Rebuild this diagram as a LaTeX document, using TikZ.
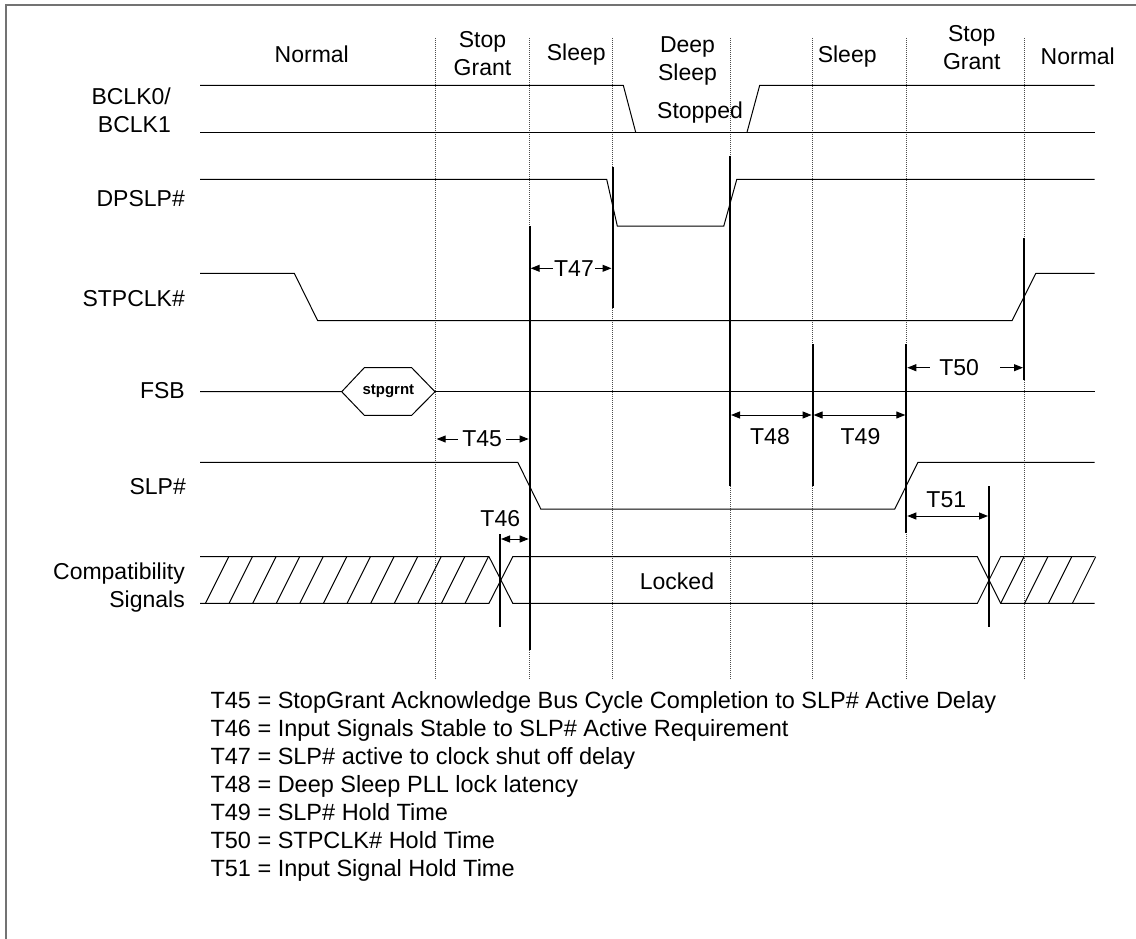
\documentclass[tikz,border=0pt]{standalone}
\usepackage{fontspec}
\setmainfont{Liberation Sans}
\usetikzlibrary{arrows.meta}
\tikzset{
  wave/.style={line width=1pt},
  markline/.style={line width=2pt},
  gridline/.style={line width=0.8pt,draw=black!70,dash pattern=on 1pt off 1pt},
  dimarrow/.style={-{Triangle[length=9pt,width=7pt]},line width=1pt},
  dimboth/.style={{Triangle[length=9pt,width=7pt]}-{Triangle[length=9pt,width=7pt]},line width=1pt},
  modelabel/.style={align=center,inner sep=0pt},
  signame/.style={anchor=east,align=right,inner sep=0pt},
  timelabel/.style={inner sep=0pt},
  keyline/.style={anchor=base west,inner sep=0pt,font=\fontsize{23.5}{28}\selectfont}
}
\begin{document}
\begin{tikzpicture}[x=1pt,y=-1pt,font=\fontsize{23}{28}\selectfont]
  \useasboundingbox (0,0) rectangle (1136,939);
  % frame
  \draw[black!55,line width=2pt] (6,939) -- (6,5) -- (1136,5);
  % state boundaries
  \foreach \xx in {435.7,529.7,612.5,730,812.6,906.3,1024}
    \draw[gridline] (\xx,38) -- (\xx,680);
  % state names
  \node[modelabel] (normone) at (311.8,54.3) {Normal};
  \node[modelabel] (grantone) at (482.5,54) {Stop\\Grant};
  \node[modelabel] (sleepone) at (576.3,54.3) {Sleep};
  \node[modelabel] (deep) at (687.5,60.8) {Deep\\Sleep};
  \node[modelabel] (sleeptwo) at (847.2,56.7) {Sleep};
  \node[modelabel] (granttwo) at (971.8,47.5) {Stop\\Grant};
  \node[modelabel] (normtwo) at (1077.8,56.7) {Normal};
  % signal names
  \node[signame] (bclk) at (171,110) {BCLK0/\\BCLK1};
  \node[signame] (dpslp) at (185,199) {DPSLP\#};
  \node[signame] (stpclk) at (185,298.3) {STPCLK\#};
  \node[signame] (fsb) at (185,391) {FSB};
  \node[signame] (slp) at (186,486.7) {SLP\#};
  \node[signame] (compat) at (185,587.5) {Compatibility\\Signals};
  % BCLK
  \draw[wave] (200,85.3) -- (623.3,85.3) -- (635.7,132.3);
  \draw[wave] (747,132.3) -- (759.7,85.3) -- (1094.7,85.3);
  \draw[wave] (200,132.3) -- (1094.7,132.3);
  \node[timelabel] (stopped) at (700,113) {Stopped};
  % DPSLP#
  \draw[wave] (200,179.3) -- (606.7,179.3) -- (617.3,226) -- (723.8,226)
    -- (736.8,179.3) -- (1094.7,179.3);
  % STPCLK#
  \draw[wave] (200,273.3) -- (294.3,273.3) -- (317.7,320.7) -- (1012,320.7)
    -- (1035.9,273.3) -- (1094.7,273.3);
  % FSB
  \draw[wave] (200,391.7) -- (341.7,391.7) -- (364.3,367.7) -- (411.7,367.7)
    -- (435,391.7) -- (411.7,415.3) -- (364.3,415.3) -- (341.7,391.7);
  \draw[wave] (435,391.7) -- (1094.7,391.7);
  \node[timelabel,font=\fontsize{15}{18}\selectfont\bfseries] (grnt) at (388.4,391.5) {stpgrnt};
  % SLP#
  \draw[wave] (200,462.3) -- (517.8,462.3) -- (540.8,509) -- (894.7,509)
    -- (918,462.3) -- (1094.7,462.3);
  % compatibility signals
  \draw[wave] (200,556.7) -- (489,556.7) -- (512.8,603.3) -- (977.4,603.3)
    -- (1000.7,556.7) -- (1094.7,556.7);
  \draw[wave] (200,603.3) -- (489,603.3) -- (512.8,556.7) -- (977.4,556.7)
    -- (1000.7,603.3) -- (1094.7,603.3);
  \foreach \k in {0,...,11}
    \draw[wave] (205.5+23.6*\k,603.3) -- ++(23.3,-46.6);
  \foreach \k in {0,...,3}
    \draw[wave] (1000.7+23.9*\k,603.3) -- ++(23.3,-46.6);
  \node[timelabel] (locked) at (677,581.7) {Locked};
  % timing marks
  \draw[markline] (529.7,226) -- (529.7,650);
  \draw[markline] (612.5,167) -- (612.5,308);
  \draw[markline] (730,156) -- (730,486);
  \draw[markline] (812.6,344) -- (812.6,486);
  \draw[markline] (906.3,344) -- (906.3,533);
  \draw[markline] (1024,238) -- (1024,380);
  \draw[markline] (500,534) -- (500,627);
  \draw[markline] (989,486) -- (989,627);
  % T47
  \coordinate (fortysevenl) at (530.7,268.3);
  \coordinate (fortysevenr) at (611.5,268.3);
  \node[timelabel,inner xsep=1pt] (tfortyseven) at (574,268.3) {T47};
  \draw[dimarrow] (tfortyseven) -- (fortysevenl);
  \draw[dimarrow] (tfortyseven) -- (fortysevenr);
  % T45
  \coordinate (fortyfivel) at (436.7,439);
  \coordinate (fortyfiver) at (528.7,439);
  \node[timelabel,inner xsep=4pt] (tfortyfive) at (482.2,439) {T45};
  \draw[dimarrow] (tfortyfive) -- (fortyfivel);
  \draw[dimarrow] (tfortyfive) -- (fortyfiver);
  % T50
  \coordinate (fiftyl) at (907.3,367.7);
  \coordinate (fiftyr) at (1023,367.7);
  \node[timelabel,inner xsep=9.5pt] (tfifty) at (959.2,367.7) {T50};
  \draw[dimarrow] (tfifty) -- (fiftyl);
  \draw[dimarrow] ([xshift=11.5pt]tfifty.east) -- (fiftyr);
  % T48, T49
  \coordinate (fortyeightl) at (731,415);
  \coordinate (fortyeightr) at (811.6,415);
  \coordinate (fortyninel) at (813.6,415);
  \coordinate (fortyniner) at (905.3,415);
  \draw[dimboth] (fortyeightl) -- (fortyeightr);
  \draw[dimboth] (fortyninel) -- (fortyniner);
  \node[timelabel] (tfortyeight) at (770,436.7) {T48};
  \node[timelabel] (tfortynine) at (860.5,436.7) {T49};
  % T51
  \coordinate (fiftyonel) at (907.3,516);
  \coordinate (fiftyoner) at (988,516);
  \draw[dimboth] (fiftyonel) -- (fiftyoner);
  \node[timelabel] (tfiftyone) at (946.3,499.3) {T51};
  % T46
  \coordinate (fortysixl) at (501,539);
  \coordinate (fortysixr) at (528.7,539);
  \draw[dimboth] (fortysixl) -- (fortysixr);
  \node[timelabel] (tfortysix) at (500.3,519) {T46};
  % key
  \node[keyline] (keyone) at (210.3,708.3) {T45 = StopGrant Acknowledge Bus Cycle Completion to SLP\# Active Delay};
  \node[keyline] (keytwo) at (210.3,736.4) {T46 = Input Signals Stable to SLP\# Active Requirement};
  \node[keyline] (keythree) at (210.3,764.5) {T47 = SLP\# active to clock shut off delay};
  \node[keyline] (keyfour) at (210.3,792.6) {T48 = Deep Sleep PLL lock latency};
  \node[keyline] (keyfive) at (210.3,820.7) {T49 = SLP\# Hold Time};
  \node[keyline] (keysix) at (210.3,848.8) {T50 = STPCLK\# Hold Time};
  \node[keyline] (keyseven) at (210.3,876.9) {T51 = Input Signal Hold Time};
\end{tikzpicture}
\end{document}
